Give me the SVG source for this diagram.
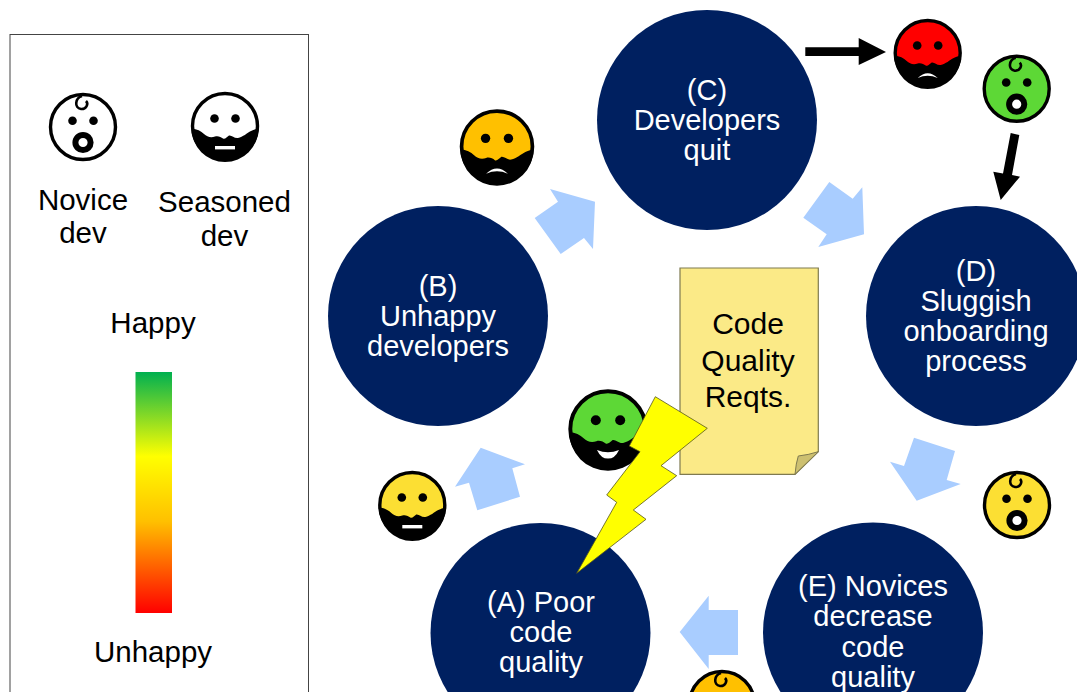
<svg xmlns="http://www.w3.org/2000/svg" width="1077" height="692" viewBox="0 0 1077 692">
<style>
text{font-family:"Liberation Sans",Arial,sans-serif;text-anchor:middle}
.n{fill:#002060}
.nt{fill:#fff;font-size:29px}
.lt{fill:#000;font-size:29.500px}
.a{fill:#a9cdff}
.k{fill:#000}
</style>
<defs>
<linearGradient id="scale" x1="0" y1="0" x2="0" y2="1">
<stop offset="0" stop-color="#00b050"/>
<stop offset="0.35" stop-color="#ffff00"/>
<stop offset="0.62" stop-color="#ffc000"/>
<stop offset="1" stop-color="#ff0000"/>
</linearGradient>
<g id="novice">
<circle r="32.5" stroke="#000" stroke-width="3.4"/>
<path d="M-1,-31C-8,-29-9,-19-2,-18C3,-17.5 6,-23 3,-26" fill="none" stroke="#000" stroke-width="2.6"/>
<circle cx="-10.5" cy="-6.200" r="4.300" class="k"/>
<circle cx="10.5" cy="-6.200" r="4.300" class="k"/>
<circle cy="15.5" r="7.600" fill="#fff" stroke="#000" stroke-width="6"/>
</g>
<g id="seasoned">
<circle r="32.5" stroke="#000" stroke-width="3.4"/>
<path class="k" d="M-33.5,2.500C-28,3-24,5-21,8C-18,11-14,12-10,10.500C-7,9.500-4,11-2,12.500C0,13.500 2,11 4,9.500C7,9 9,12.500 13,12C18,11 22,7 26,5C28,4 31,3 33.5,2.500A33.5,33.5 0 0 1-33.5,2.500Z"/>
<circle cx="-10.5" cy="-7.500" r="4.300" class="k"/>
<circle cx="10.5" cy="-7.500" r="4.300" class="k"/>
</g>
<rect id="flat" x="-10" y="20" width="20" height="3.4" fill="#fff"/>
<path id="frown" d="M-10,25Q0,15.5 10,25Q0,20.5 -10,25Z" fill="#fff"/>
<path id="smile" d="M-9.5,18Q0,22 9.5,18Q6,25.5 0,25.5Q-6,25.5 -9.5,18Z" fill="#fff"/>
</defs>
<rect width="1077" height="692" fill="#fff"/>
<g id="legend">
<rect x="10" y="34.5" width="298.5" height="670" fill="#fff" stroke="#444" stroke-width="1"/>
<use href="#novice" fill="#fff" transform="translate(83,127)"/>
<use href="#seasoned" fill="#fff" transform="translate(225,126)"/>
<use href="#flat" transform="translate(225,126)"/>
<text class="lt" x="83" y="210">Novice</text>
<text class="lt" x="83" y="243">dev</text>
<text class="lt" x="224.500" y="212">Seasoned</text>
<text class="lt" x="224.500" y="246">dev</text>
<text class="lt" x="153" y="333">Happy</text>
<rect x="135.500" y="372" width="36.500" height="241" fill="url(#scale)"/>
<text class="lt" x="153" y="662">Unhappy</text>
</g>
<g id="connectors">
<polygon class="a" points="480.700,447.700 525,464.300 512.300,468.300 520,496.700 477.300,510.300 469,482.700 455,486.700"/>
<polygon class="a" points="550,189 595,201.700 593,249 584,238 560.700,254 534.700,218 558,201.700"/>
<polygon class="a" points="829.300,182 852.700,198.700 862.300,187.300 864,234.300 818.300,247 826.700,234.300 803.300,217.700"/>
<polygon class="a" points="914,437.700 955,451 946.700,480 960.700,484 916.700,500.700 890,461.700 904,466"/>
<polygon class="a" points="679.700,632 708.700,595.700 708.700,610 738,610 738,655 708.700,655 708.700,669"/>
<polygon class="k" points="805.300,47.300 858.700,47.300 858.700,38 886,52 858.700,65 858.700,56 805.300,56"/>
<polygon class="k" points="1010.700,133 1019.300,135 1012,175 1020,176.700 1000.700,200 993.300,171.700 1003,173.500"/>
</g>
<g id="node-a"><circle class="n" cx="540.500" cy="633" r="110"/>
<text class="nt" x="541" y="612">(A) Poor</text><text class="nt" x="541" y="642">code</text><text class="nt" x="541" y="672">quality</text></g>
<g id="node-b"><circle class="n" cx="438" cy="316" r="110"/>
<text class="nt" x="438" y="295.500">(B)</text><text class="nt" x="438" y="325.500">Unhappy</text><text class="nt" x="438" y="355.500">developers</text></g>
<g id="node-c"><circle class="n" cx="707" cy="120" r="110"/>
<text class="nt" x="707" y="99.500">(C)</text><text class="nt" x="707" y="129.500">Developers</text><text class="nt" x="707" y="159.500">quit</text></g>
<g id="node-d"><circle class="n" cx="976" cy="316" r="110"/>
<text class="nt" x="976" y="280.500">(D)</text><text class="nt" x="976" y="310.500">Sluggish</text><text class="nt" x="976" y="340.500">onboarding</text><text class="nt" x="976" y="370.500">process</text></g>
<g id="node-e"><circle class="n" cx="873" cy="632.500" r="110"/>
<text class="nt" x="873" y="595.500">(E) Novices</text><text class="nt" x="873" y="625.500">decrease</text><text class="nt" x="873" y="656.500">code</text><text class="nt" x="873" y="686.500">quality</text></g>
<g id="face-red"><use href="#seasoned" fill="#ff0000" transform="translate(927.700,53)"/><use href="#frown" transform="translate(927.700,53)"/></g>
<g id="face-green-novice"><use href="#novice" fill="#5dd836" transform="translate(1016.700,88.700)"/></g>
<g id="face-orange"><use href="#seasoned" fill="#ffc000" transform="translate(497,146.500) scale(1.09)"/><use href="#frown" transform="translate(497,146.500) scale(1.09)"/></g>
<g id="face-yellow"><use href="#seasoned" fill="#fcdf33" transform="translate(412.300,505)"/><use href="#flat" transform="translate(412.300,505)"/></g>
<g id="face-yellow-novice"><use href="#novice" fill="#fcdf33" transform="translate(1017,505)"/></g>
<g id="face-orange-novice"><use href="#novice" fill="#ffc000" transform="translate(722,704)"/></g>
<g id="face-green"><use href="#seasoned" fill="#5dd836" transform="translate(608,429) scale(1.16)"/><use href="#smile" transform="translate(608,429) scale(1.16)"/></g>
<g id="note">
<path d="M680,268H818.300V451.700L795,474.300H680Z" fill="#fbea87" stroke="#7f7a50" stroke-width="1.2"/>
<path d="M795,474.300Q796,463 798.300,456Q808,455 818.300,451.700Z" fill="#cdc070" stroke="#7f7a50" stroke-width="1"/>
<text x="748" y="333.500" font-size="30">Code</text>
<text x="748" y="370.500" font-size="30">Quality</text>
<text x="748" y="407" font-size="30">Reqts.</text>
</g>
<g id="lightning">
<polygon points="655.300,396.700 707.300,428.300 661,465.700 676.700,475.700 633.300,510 646,519.300 576.700,573.300 616.700,502.300 606.700,495 640,451.700 629.300,446" fill="#ffff00" stroke="#55551a" stroke-width="0.8"/>
</g>
</svg>
